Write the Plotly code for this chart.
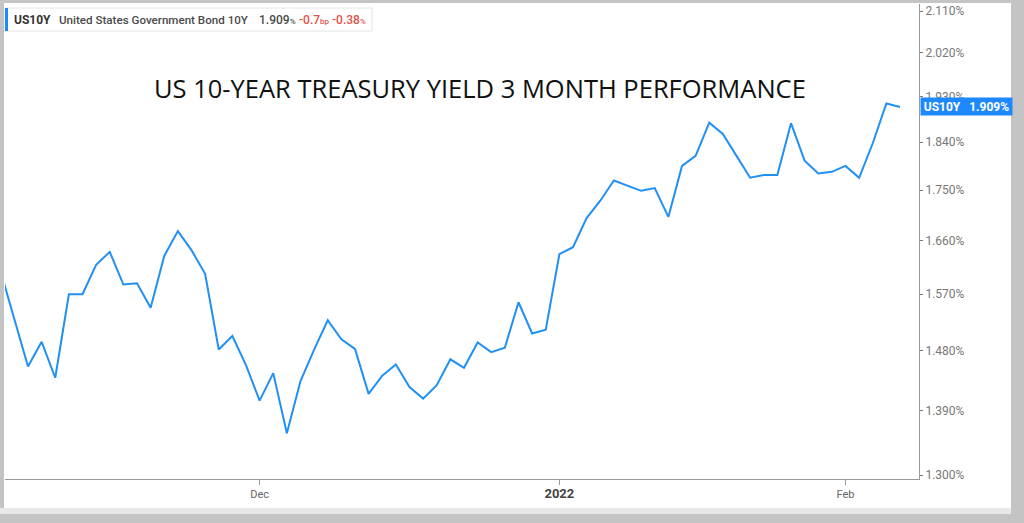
import math
import plotly.graph_objects as go

# ---- data ----
# trading-day index; 17 = Dec 1 2021, 39 = first session of 2022, 60 = Feb 1 2022
day_index = list(range(-2, 65))
yield_pct = [
    1.607, 1.530,
    1.456, 1.494, 1.439, 1.570, 1.570, 1.619, 1.641, 1.586, 1.588, 1.548,
    1.634, 1.677, 1.644, 1.604, 1.482, 1.503, 1.458, 1.405, 1.446, 1.358,
    1.434, 1.482, 1.528, 1.498, 1.483, 1.415, 1.442, 1.459, 1.425, 1.408,
    1.428, 1.467, 1.454, 1.493, 1.478, 1.485, 1.557, 1.507, 1.513, 1.637,
    1.649, 1.700, 1.731, 1.768, 1.758, 1.749, 1.754, 1.702, 1.795, 1.814,
    1.878, 1.856, 1.814, 1.773, 1.778, 1.778, 1.877, 1.805, 1.781, 1.784,
    1.795, 1.773, 1.838, 1.916, 1.909,
]
x_tick_pos = [17, 39, 60]
x_tick_labels = ["Dec", '<span style="font-size:13px;color:#444444"><b>2022</b></span>', "Feb"]
y_tick_vals = [1.300, 1.390, 1.480, 1.570, 1.660, 1.750, 1.840, 1.930, 2.020, 2.110]
y_tick_text = [f"{v:.3f}%" for v in y_tick_vals]
title_text = "US 10-YEAR TREASURY YIELD 3 MONTH PERFORMANCE"
symbol = "US10Y"
bond_name = "United States Government Bond 10Y"
last_value = 1.909
change_bp = -0.7
change_pct = -0.38

W, H = 1024, 523
L, R, T, B = 5, 105, 4, 44
PW, PH = W - L - R, H - T - B


def px(xp):
    return (xp - L) / PW


def py(yp):
    return (H - B - yp) / PH


fig = go.Figure()
fig.add_trace(go.Scatter(
    x=day_index, y=yield_pct, mode="lines",
    line=dict(color="#2190f5", width=2),
    hoverinfo="skip", showlegend=False,
))

shapes = [
    dict(type="rect", xref="paper", yref="paper", x0=px(4), x1=px(1011), y0=py(508), y1=py(3),
         fillcolor="white", line=dict(width=0), layer="below"),
    dict(type="rect", xref="paper", yref="paper", x0=px(0), x1=px(1011), y0=py(514), y1=py(508),
         fillcolor="#e8e8e8", line=dict(width=0), layer="below"),
    dict(type="rect", xref="paper", yref="paper", x0=px(5), x1=px(372), y0=py(31), y1=py(8),
         fillcolor="white", line=dict(color="#e4e4e4", width=1), layer="above"),
    dict(type="rect", xref="paper", yref="paper", x0=px(5), x1=px(8), y0=py(31), y1=py(8),
         fillcolor="#1e88ff", line=dict(width=0), layer="above"),
]

small = '<span style="font-size:8px">%s</span>'


def legend_piece(text, xpix, color, size=12, weight=500):
    return dict(text=text, xref="paper", yref="paper", x=px(xpix), y=py(19.5),
                xanchor="left", yanchor="middle", showarrow=False,
                font=dict(family="Roboto", size=size, color=color, weight=weight))


annotations = [
    legend_piece(symbol, 12, "#333333", weight=700),
    legend_piece(bond_name, 57, "#4a4a4a", size=11.6),
    legend_piece(f"{last_value:.3f}" + small % "%", 257, "#4a4a4a"),
    legend_piece(f"{change_bp:.1f}" + small % "bp", 297, "#e0524a"),
    legend_piece(f"{change_pct:.2f}" + small % "%", 330, "#e0524a"),
    dict(text=title_text, xref="paper", yref="paper", x=px(480), y=py(88),
         xanchor="center", yanchor="middle", showarrow=False,
         font=dict(family="Open Sans", size=25.5, color="#111111")),
    dict(text=f"<b>{symbol}   {last_value:.3f}%</b>", xref="paper", yref="y", x=1,
         xanchor="left", xshift=1,
         y=math.log10(last_value), yanchor="middle", showarrow=False,
         bgcolor="#1e88ff", width=91, height=17, borderpad=0, align="center",
         font=dict(family="Roboto", size=12, color="white")),
]

y_lo = 1.2947
y_hi = 2.1255
fig.update_layout(
    width=W, height=H,
    margin=dict(l=L, r=R, t=T, b=B, pad=0),
    paper_bgcolor="#c4c4c4",
    plot_bgcolor="rgba(0,0,0,0)",
    shapes=shapes,
    annotations=annotations,
    hovermode=False,
    xaxis=dict(
        range=[(L - 28) / 13.625, (919 - 28) / 13.625],
        tickmode="array", tickvals=x_tick_pos, ticktext=x_tick_labels,
        showgrid=False, zeroline=False,
        showline=True, linecolor="#9a9a9a", linewidth=1,
        ticks="outside", ticklen=5, tickcolor="#9a9a9a",
        tickfont=dict(family="Roboto", size=11, color="#666666"),
        fixedrange=True,
    ),
    yaxis=dict(
        type="log", side="right",
        range=[math.log10(y_lo), math.log10(y_hi)],
        tickmode="array", tickvals=y_tick_vals, ticktext=y_tick_text,
        showgrid=False, zeroline=False,
        showline=True, linecolor="#9a9a9a", linewidth=1,
        ticks="outside", ticklen=3, tickcolor="#777777",
        tickfont=dict(family="Roboto", size=12, color="#777777"),
        fixedrange=True,
    ),
)

fig.write_html("out.html", config={"displayModeBar": False},
               post_script="document.body.style.margin='0';document.body.style.overflow='hidden';")
